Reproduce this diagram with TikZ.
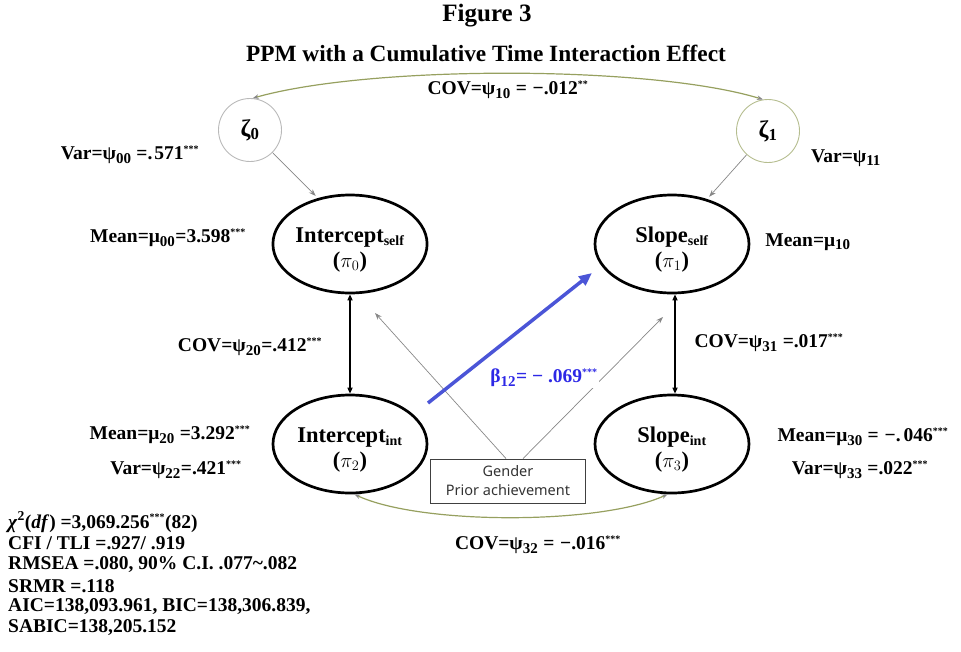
\documentclass[tikz,border=0pt]{standalone}
\usepackage{fontspec}
\setmainfont{Liberation Serif}
\newfontfamily\boxfamily{Noto Sans}
\usetikzlibrary{arrows.meta,shapes.geometric}
\newcommand\labfont{\fontsize{19.5}{22}\selectfont\bfseries}
\newcommand\elfont{\fontsize{22.5}{25}\selectfont\bfseries}
\newcommand\zfont{\fontsize{24}{26}\selectfont\bfseries}
\newcommand\st[1]{\textsuperscript{\fontsize{10}{10}\selectfont #1}}
\newcommand\sbs[1]{\textsubscript{\fontsize{15}{15}\selectfont #1}}
\newcommand\elsub[1]{\textsubscript{\fontsize{14}{14}\selectfont #1}}
\newcommand\tstrut{\rule{0pt}{27pt}}
\definecolor{covc}{RGB}{150,160,95}
\definecolor{bluec}{RGB}{75,85,215}
\definecolor{bluet}{RGB}{45,40,230}
\definecolor{grayc}{RGB}{135,135,135}
\begin{document}
\begin{tikzpicture}[x=1pt,y=-1pt]
\tikzset{
 lat/.style={ellipse, draw=black, line width=2.7pt, minimum width=154pt, minimum height=98pt, align=center, font=\elfont, inner sep=0pt},
 err/.style={circle, draw=gray!55, line width=0.9pt, minimum size=63pt, inner sep=0pt, font=\zfont},
 lab/.style={font=\labfont, inner sep=0pt},
 fitl/.style={font=\labfont, inner sep=0pt, anchor=west},
 gry/.style={draw=grayc, line width=0.7pt, -{Stealth[length=7pt,width=5pt]}},
 dbl/.style={draw=black, line width=1.6pt, {Triangle[length=6pt,width=5pt]}-{Triangle[length=6pt,width=5pt]}},
 cova/.style={draw=covc, line width=1.2pt, {Stealth[length=6pt,width=4.5pt,color=grayc]}-{Stealth[length=6pt,width=4.5pt,color=grayc]}},
 blu/.style={draw=bluec, line width=3.5pt, -{Triangle[length=13pt,width=11pt]}},
 covbox/.style={draw=black!75, line width=0.9pt, minimum width=155pt, minimum height=44pt, align=center, font=\boxfamily\fontsize{14.5}{19}\selectfont, text=black!80, inner sep=0pt},
}
\useasboundingbox (0,0) rectangle (961,651);

% titles
\node[font=\fontsize{25}{28}\selectfont\bfseries] (t1) at (487,16) {Figure 3};
\node[font=\fontsize{23.3}{26}\selectfont\bfseries] (t2) at (486,53) {PPM with a Cumulative Time Interaction Effect};

% error terms
\node[err] (z0) at (250,130) {ζ\textsubscript{0}};
\node[err, draw=covc!70] (z1) at (768,131) {ζ\textsubscript{1}};

% latent factors
\node[lat] (is) at (350,244) {\tstrut Intercept\elsub{self}\\(\(\pi_0\))};
\node[lat] (ss) at (672,244) {\tstrut Slope\elsub{self}\\(\(\pi_1\))};
\node[lat] (ii) at (350,444) {\tstrut Intercept\elsub{int}\\(\(\pi_2\))};
\node[lat] (si) at (672,444) {\tstrut Slope\elsub{int}\\(\(\pi_3\))};

% covariate box
\node[covbox] (cv) at (508,481) {Gender\\Prior achievement};

% free ends
\coordinate (gl) at (375,313);
\coordinate (gr) at (663,317);
\coordinate (ba) at (428,403);
\coordinate (bb) at (592,273);

% connectors
\draw[gry, shorten >=3pt] (z0.-45) -- (is.125);
\draw[gry, shorten >=3pt] (z1.-132) -- (ss.52);
\draw[dbl] (is) -- (ii);
\draw[dbl] ([xshift=3pt]ss.south) -- ([xshift=3pt]si.north);
\draw[gry] ([xshift=-2pt]cv.north) -- (gl);
\draw[gry] ([xshift=15pt]cv.north) -- (gr);
\draw[blu] (ba) -- (bb);
\draw[cova] (z1.99) .. controls (650,65) and (370,65) .. (z0.85);
\draw[cova] (ii.-85) .. controls (420,525) and (600,525) .. (si.-95);

% labels
\node[lab] (l1) at (130,155) {Var=ψ\sbs{00} =.\kern2pt571\st{***}};
\node[lab] (l2) at (168,238) {Mean=μ\sbs{00}=3.598\st{***}};
\node[lab] (l3) at (846,158) {Var=ψ\sbs{11}};
\node[lab] (l4) at (808,242) {Mean=μ\sbs{10}};
\node[lab] (l5) at (250,347) {COV=ψ\sbs{20}=.412\st{***}};
\node[lab] (l6) at (769,343) {COV=ψ\sbs{31} =.017\st{***}};
\node[lab] (l7) at (170,435) {Mean=μ\sbs{20} =3.292\st{***}};
\node[lab] (l8) at (176,470) {Var=ψ\sbs{22}=.421\st{***}};
\node[lab] (l9) at (863,437) {Mean=μ\sbs{30} = \kern1pt−.\kern3pt046\st{***}};
\node[lab] (l10) at (860,470) {Var=ψ\sbs{33} =.022\st{***}};
\node[lab] (l11) at (508,90) {COV=ψ\sbs{10} = \kern1pt−.012\st{**}};
\node[lab] (l12) at (538,545) {COV=ψ\sbs{32} = \kern1pt−.016\st{***}};
\node[lab, text=bluet, fill=white, inner sep=1pt] (l13) at (544,378) {β\sbs{12}= − .069\st{***}};

% fit statistics
\node[fitl] (f1) at (8,522) {\textit{χ}\textsuperscript{2}(\textit{df}) =3,069.256\st{***}(82)};
\node[fitl] (f2) at (8,543) {CFI / TLI =.927/ .919};
\node[fitl] (f3) at (8,565) {RMSEA =.080, 90\% C.I. .077\textasciitilde.082};
\node[fitl] (f4) at (8,586) {SRMR =.118};
\node[fitl] (f5) at (8,607) {AIC=138,093.961, BIC=138,306.839,};
\node[fitl] (f6) at (8,628) {SABIC=138,205.152};
\end{tikzpicture}
\end{document}
